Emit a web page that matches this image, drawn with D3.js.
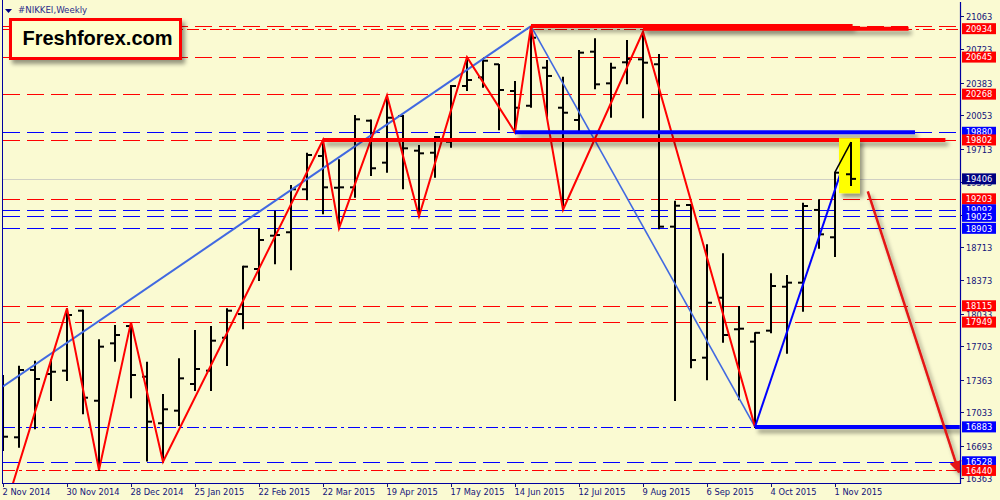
<!DOCTYPE html>
<html>
<head>
<meta charset="utf-8">
<script src="https://cdn.jsdelivr.net/npm/d3@7"></script>
<style>
  body { margin: 0; background: #fafad2; }
  svg { display: block; }
  text { font-family: "DejaVu Sans", Verdana, sans-serif; }
</style>
</head>
<body>
<svg id="chart" width="1000" height="500"></svg>
<script>
// weekly bars, 2 Nov 2014 .. 8 Nov 2015
var opens  = [16953,16777,17462,17421,17455,18065,17149,17733,17909,17394,16920,17048,17319,17455,17790,18031,18489,18828,18863,19300,19639,19316,19320,19998,19571,20046,19693,19672,19784,20351,20439,20572,20300,20150,20537,20130,20005,20700,20378,20592,20622,20572,18920,19140,17587,18197,17876,17750,17862,18309,18350,19090,18812,19453];
var highs  = [17411,17506,17556,17571,18089,18075,17774,17920,17949,17546,17218,17581,17869,17909,18089,18523,18903,19082,19344,19672,19802,19605,20056,20010,20255,20056,19751,19842,20361,20645,20633,20575,20402,20960,20615,20446,20717,20836,20588,20819,20903,20676,19184,19150,18740,18649,18113,17845,18446,18428,19164,19198,19479,19780];
var lows   = [16648,16682,16869,17157,17360,17021,16444,17556,17184,16540,16528,16902,17258,17258,17513,17886,18377,18547,18486,19198,19056,18903,19225,19446,19479,19310,19025,19428,19733,20310,20344,19910,19880,20140,20039,19092,19903,20327,20039,20378,20033,18903,17157,17489,17367,17750,17164,16883,17845,17638,18065,18706,18622,19334];
var closes = [16783,17462,17370,17444,18021,17180,17699,17818,17411,16936,17062,17377,17472,17760,18065,18513,18784,18835,19300,19649,19320,19320,20012,19514,20028,19717,19666,19832,20351,20412,20608,20310,20130,20842,20453,20079,20690,20368,20537,20626,20588,18920,19133,17563,18146,17818,17882,17840,18316,18350,19130,18842,19469,19406];

var dateLabels = ["2 Nov 2014","30 Nov 2014","28 Dec 2014","25 Jan 2015","22 Feb 2015","22 Mar 2015","19 Apr 2015","17 May 2015","14 Jun 2015","12 Jul 2015","9 Aug 2015","6 Sep 2015","4 Oct 2015","1 Nov 2015"];
var priceTicks = [21063,20723,20383,20053,19713,19373,19043,18713,18373,18033,17703,17363,17033,16693,16363];

// horizontal levels: price, colour group, line kind
var levelPrices = [20960,20934,20645,20268,19880,19802,19203,19092,19025,18903,18115,17949,16883,16528,16440];
var levelGroups = ["red","red","red","red","blue","red","red","blue","blue","blue","red","red","blue","blue","red"];
var levelKinds  = ["dash","dashdot","dash","dash","dash","dash","dash","dash","dash","dash","dash","dash","dashdot","dash","dashdot"];
var levelLabeled = [false,true,true,true,true,true,true,true,true,true,true,true,true,true,true];
var lastPrice = 19406;

// thick level segments: price, from bar, to bar, colour group
var thickPrices = [20960,20934,19880,19802,16883];
var thickFrom   = [33,40,32,20,47];
var thickTo     = [53.1,56.6,57,58.9,59.8];
var thickGroups = ["red","red","blue","red","blue"];

// zigzag swings (bar index, price)
var zigzagRed  = [[0,15980],[4,18089],[6,16444],[8,17949],[10,16528],[20,19802],[21,18903],[24,20255],[26,19025],[29,20645],[32,19880],[33,20960],[35,19092],[40,20903],[47,16883]];
var zigzagBlue = [[47,16883],[53,19780]];
var zigzagLast = [[52,19475],[53,19780]];
var trendUp    = [[0,17294],[33,20960]];
var trendDown  = [[33,20960],[47,16883]];
var arrowPath  = [[54.05,19280],[59.75,16420]];
var highlight  = {fromBar: 52.25, toBar: 53.56, top: 19820, bottom: 19260};

var colors = {red: "#ff0000", blue: "#0000ff", axis: "#0000a0", label: "#13137a"};

var svg = d3.select("#chart");
var W = 1000, H = 500;
var left = 3, right = 960, bottom = 483;

svg.append("rect").attr("width", W).attr("height", H).attr("fill", "#fafad2");

var defs = svg.append("defs");
defs.append("clipPath").attr("id", "plotclip")
    .append("rect").attr("x", left).attr("y", 0).attr("width", right - left).attr("height", bottom);
// user space region so flat horizontal lines still get their shadow
var sh = defs.append("filter").attr("id", "shadow").attr("filterUnits", "userSpaceOnUse")
    .attr("x", 0).attr("y", 0).attr("width", W).attr("height", H);
sh.append("feDropShadow").attr("dx", 3).attr("dy", 4).attr("stdDeviation", 2.2)
    .attr("flood-color", "#000").attr("flood-opacity", 0.4);
defs.append("marker").attr("id", "arrowhead").attr("viewBox", "0 0 10 10")
    .attr("refX", 9).attr("refY", 5).attr("markerWidth", 5).attr("markerHeight", 5)
    .attr("markerUnits", "strokeWidth").attr("orient", "auto")
    .append("path").attr("d", "M0,0 L10,5 L0,10 Z").attr("fill", "#e41414");

var x = d3.scaleLinear().domain([0, 59.8125]).range([left, right]);
var y = d3.scaleLinear().domain([16363, 21063]).range([478, 16]);

var plot = svg.append("g").attr("clip-path", "url(#plotclip)");

var dashes = {dash: "17,7", dashdot: "12,4,3,4"};

// level lines
plot.selectAll("line.level").data(levelPrices).enter().append("line")
    .attr("class", "level")
    .attr("x1", left).attr("x2", right)
    .attr("y1", function (d) { return Math.round(y(d)) + 0.5; })
    .attr("y2", function (d) { return Math.round(y(d)) + 0.5; })
    .attr("stroke", function (d, i) { return colors[levelGroups[i]]; })
    .attr("stroke-width", 1)
    .attr("stroke-dasharray", function (d, i) { return dashes[levelKinds[i]]; });

// current price line
plot.append("line")
    .attr("x1", left).attr("x2", right)
    .attr("y1", Math.round(y(lastPrice)) + 0.5).attr("y2", Math.round(y(lastPrice)) + 0.5)
    .attr("stroke", "#cfcfc4").attr("stroke-width", 1);

// bars
var idx = d3.range(opens.length);
var bars = plot.selectAll("g.bar").data(idx).enter().append("g").attr("class", "bar");
bars.append("line")
    .attr("x1", function (i) { return x(i); }).attr("x2", function (i) { return x(i); })
    .attr("y1", function (i) { return y(highs[i]); }).attr("y2", function (i) { return y(lows[i]) + 1; })
    .attr("stroke", "#000").attr("stroke-width", 2);
bars.append("line")
    .attr("x1", function (i) { return x(i) - 5; }).attr("x2", function (i) { return x(i); })
    .attr("y1", function (i) { return y(opens[i]); }).attr("y2", function (i) { return y(opens[i]); })
    .attr("stroke", "#000").attr("stroke-width", 2);
bars.append("line")
    .attr("x1", function (i) { return x(i); }).attr("x2", function (i) { return x(i) + 5; })
    .attr("y1", function (i) { return y(closes[i]); }).attr("y2", function (i) { return y(closes[i]); })
    .attr("stroke", "#000").attr("stroke-width", 2);

var line = d3.line().x(function (d) { return x(d[0]); }).y(function (d) { return y(d[1]); });

plot.append("path").attr("d", line(trendUp)).attr("fill", "none").attr("stroke", "#4169e1").attr("stroke-width", 2);
plot.append("path").attr("d", line(trendDown)).attr("fill", "none").attr("stroke", "#4169e1").attr("stroke-width", 1.6);
plot.append("path").attr("d", line(zigzagRed)).attr("fill", "none").attr("stroke", "#ff0000").attr("stroke-width", 2);
plot.append("path").attr("d", line(zigzagBlue)).attr("fill", "none").attr("stroke", "#0000ff").attr("stroke-width", 2);

// thick level segments
plot.selectAll("line.thick").data(thickPrices).enter().append("line")
    .attr("class", "thick")
    .attr("x1", function (d, i) { return x(thickFrom[i]); })
    .attr("x2", function (d, i) { return x(thickTo[i]); })
    .attr("y1", function (d) { return y(d); }).attr("y2", function (d) { return y(d); })
    .attr("stroke", function (d, i) { return colors[thickGroups[i]]; })
    .attr("stroke-width", 4)
    .attr("filter", "url(#shadow)");

// highlight of the last bar
plot.append("rect")
    .attr("x", x(highlight.fromBar)).attr("y", y(highlight.top))
    .attr("width", x(highlight.toBar) - x(highlight.fromBar))
    .attr("height", y(highlight.bottom) - y(highlight.top))
    .attr("fill", "#ffff00").attr("filter", "url(#shadow)");
plot.append("path").attr("d", line(zigzagLast)).attr("fill", "none").attr("stroke", "#000").attr("stroke-width", 1.5);
var last = opens.length - 1;
plot.append("line").attr("x1", x(last)).attr("x2", x(last)).attr("y1", y(highs[last])).attr("y2", y(lows[last]))
    .attr("stroke", "#000").attr("stroke-width", 2);
plot.append("line").attr("x1", x(last) - 5).attr("x2", x(last)).attr("y1", y(opens[last])).attr("y2", y(opens[last]))
    .attr("stroke", "#000").attr("stroke-width", 2);
plot.append("line").attr("x1", x(last)).attr("x2", x(last) + 5).attr("y1", y(closes[last])).attr("y2", y(closes[last]))
    .attr("stroke", "#000").attr("stroke-width", 2);

// forecast arrow
svg.append("path").attr("d", line(arrowPath)).attr("fill", "none")
    .attr("stroke", "#e41414").attr("stroke-width", 2.5)
    .attr("marker-end", "url(#arrowhead)").attr("filter", "url(#shadow)");

// frame
svg.append("line").attr("x1", left - 0.5).attr("x2", left - 0.5).attr("y1", 0).attr("y2", bottom)
    .attr("stroke", colors.axis).attr("stroke-width", 1);
svg.append("line").attr("x1", right + 0.5).attr("x2", right + 0.5).attr("y1", 2).attr("y2", bottom + 1)
    .attr("stroke", colors.axis).attr("stroke-width", 1.2);
svg.append("line").attr("x1", left - 1).attr("x2", right + 1).attr("y1", bottom + 0.5).attr("y2", bottom + 0.5)
    .attr("stroke", colors.axis).attr("stroke-width", 1.2);

// price axis
var yAxis = svg.append("g");
var pt = yAxis.selectAll("g").data(priceTicks).enter().append("g")
    .attr("transform", function (d) { return "translate(0," + Math.round(y(d)) + ")"; });
pt.append("line").attr("x1", right + 1).attr("x2", right + 4).attr("y1", 0.5).attr("y2", 0.5)
    .attr("stroke", colors.label).attr("stroke-width", 1);
pt.append("text").attr("x", 966).attr("y", 3.5).attr("font-size", "8.3px").attr("fill", colors.label)
    .text(function (d) { return d; });

// level labels (drawn over the ticks, as in the terminal)
var boxed = [];
levelPrices.forEach(function (p, i) { if (levelLabeled[i]) boxed.push({p: p, c: colors[levelGroups[i]]}); });
boxed.splice(6, 0, {p: lastPrice, c: "#000080"});
var lb = svg.selectAll("g.lbl").data(boxed).enter().append("g").attr("class", "lbl")
    .attr("transform", function (d) { return "translate(0," + y(d.p) + ")"; });
lb.append("rect").attr("x", 962).attr("y", -5.5).attr("width", 34).attr("height", 11)
    .attr("fill", function (d) { return d.c; });
lb.append("text").attr("x", 979).attr("y", 3.2).attr("text-anchor", "middle")
    .attr("font-size", "8.3px").attr("fill", "#fff")
    .text(function (d) { return d.p; });

// time axis
var xt = svg.selectAll("g.xt").data(dateLabels).enter().append("g").attr("class", "xt")
    .attr("transform", function (d, i) { return "translate(" + Math.round(x(i * 4)) + ",0)"; });
xt.append("line").attr("x1", 0.5).attr("x2", 0.5).attr("y1", bottom).attr("y2", bottom + 4)
    .attr("stroke", colors.label).attr("stroke-width", 1);
xt.append("text").attr("x", -0.5).attr("y", 495).attr("font-size", "8.3px").attr("fill", colors.label)
    .text(function (d) { return d; });

// title
svg.append("path").attr("d", "M5,9 L12,9 L8.5,13 Z").attr("fill", "#000080");
svg.append("text").attr("x", 18).attr("y", 13).attr("font-size", "8.6px").attr("fill", "#2a2a8a")
    .text("#NIKKEI,Weekly");

// logo
svg.append("rect").attr("x", 10.5).attr("y", 19.5).attr("width", 170).attr("height", 39)
    .attr("fill", "#ffffcc").attr("stroke", "#ff0000").attr("stroke-width", 3)
    .attr("filter", "url(#shadow)");
svg.append("text").attr("x", 22.5).attr("y", 45).attr("font-size", "20px")
    .attr("font-weight", "bold").attr("fill", "#000")
    .style("font-family", "'Liberation Sans', Arial, sans-serif")
    .text("Freshforex.com");
</script>
</body>
</html>
